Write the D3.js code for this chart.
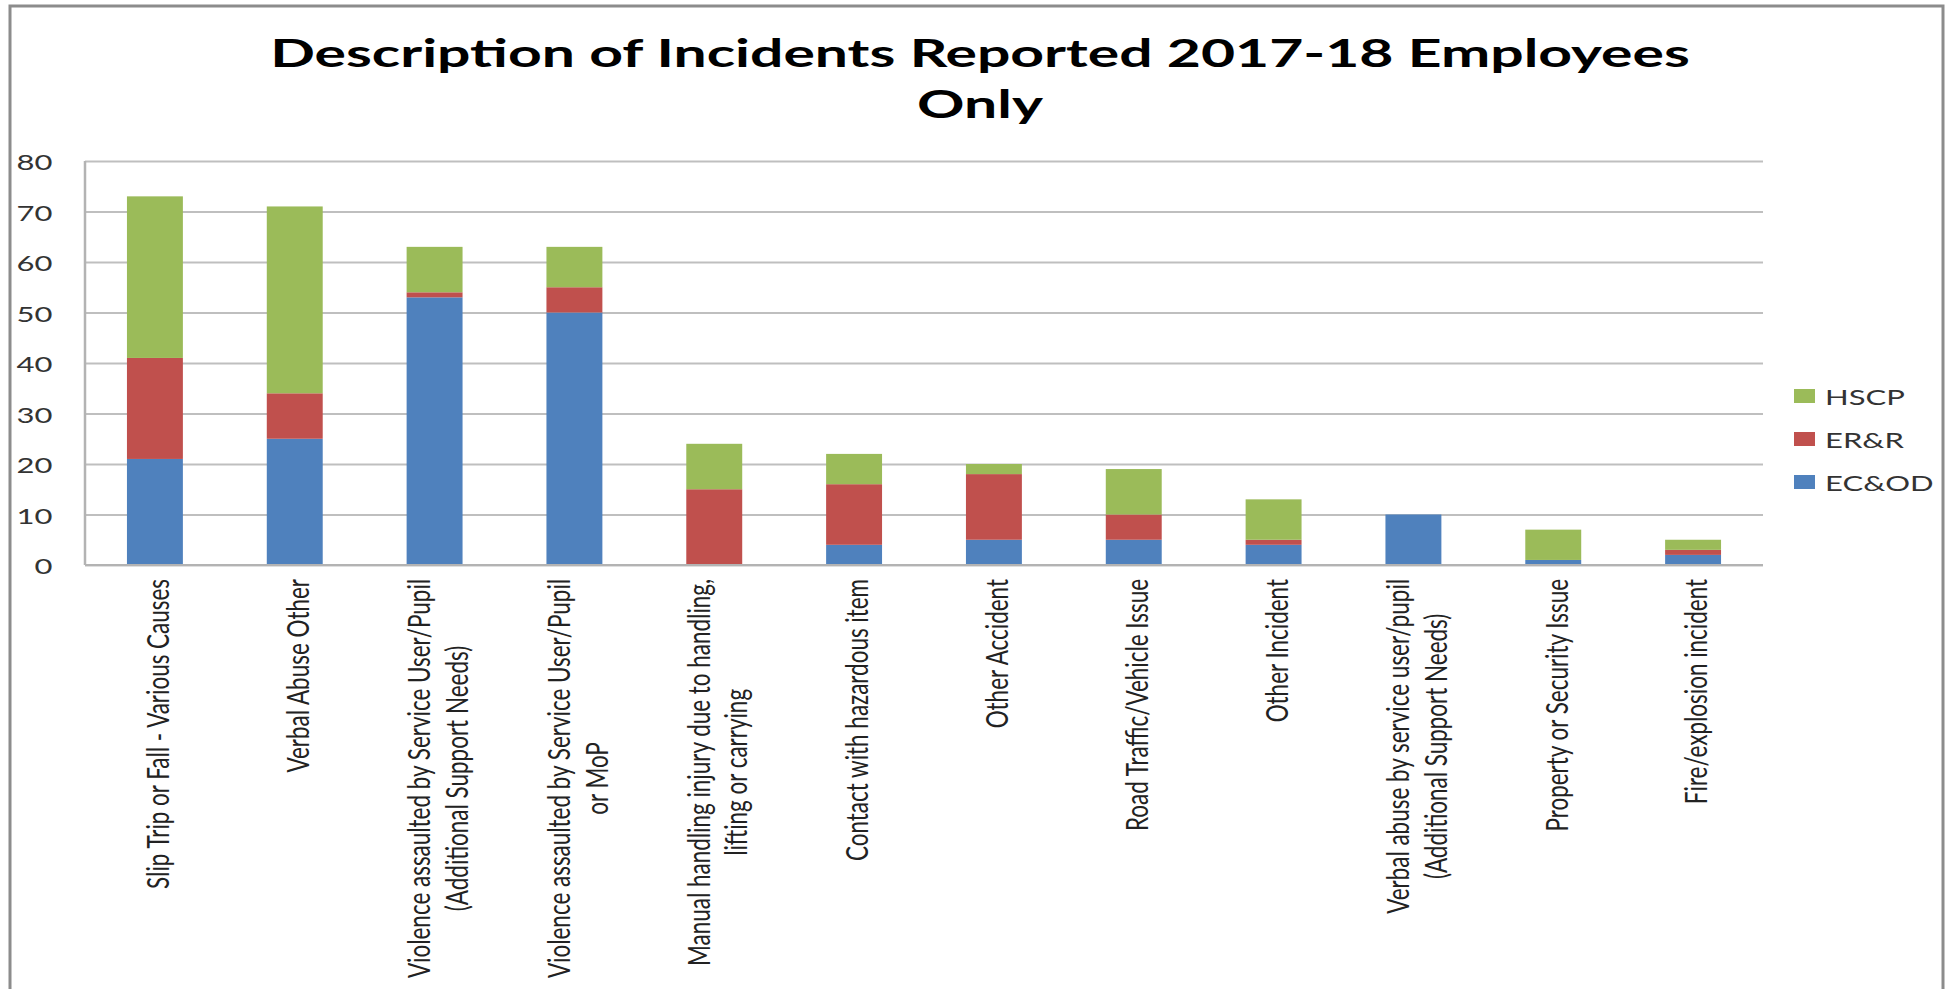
<!DOCTYPE html>
<html>
<head>
<meta charset="utf-8">
<script src="https://cdn.jsdelivr.net/npm/d3@7"></script>
<style>
  html, body { margin: 0; padding: 0; background: #ffffff; }
  svg { display: block; }
</style>
</head>
<body>
<script>
// Incident categories (line breaks mark wrapped axis labels)
const categories = [
  "Slip Trip or Fall - Various Causes",
  "Verbal Abuse Other",
  "Violence assaulted by Service User/Pupil\n(Additional Support Needs)",
  "Violence assaulted by Service User/Pupil\nor MoP",
  "Manual handling injury due to handling,\nlifting or carrying",
  "Contact with hazardous item",
  "Other Accident",
  "Road Traffic/Vehicle Issue",
  "Other Incident",
  "Verbal abuse by service user/pupil\n(Additional Support Needs)",
  "Property or Security Issue",
  "Fire/explosion incident"
];

// Series values, stacked bottom to top: EC&OD, ER&R, HSCP
const seriesNames = ["EC&OD", "ER&R", "HSCP"];
const ecod = [21, 25, 53, 50, 0, 4, 5, 5, 4, 10, 1, 2];
const err  = [20, 9, 1, 5, 15, 12, 13, 5, 1, 0, 0, 1];
const hscp = [32, 37, 9, 8, 9, 6, 2, 9, 8, 0, 6, 2];

const yTicks = [0, 10, 20, 30, 40, 50, 60, 70, 80];
const seriesColors = ["#4f81bd", "#c0504d", "#9bbb59"];

const titleLines = ["Description of Incidents Reported 2017-18 Employees", "Only"];

const W = 1951, H = 989;
const FONT = "Lato, 'Open Sans', 'DejaVu Sans', sans-serif";

const svg = d3.select("body").append("svg")
  .attr("width", W).attr("height", H);

// chart frame
svg.append("rect")
  .attr("x", 10).attr("y", 6)
  .attr("width", 1933).attr("height", 1010)
  .attr("fill", "#ffffff")
  .attr("stroke", "#8c8c8c").attr("stroke-width", 3);

const plot = { left: 85, right: 1763, top: 161, bottom: 565 };

const x = d3.scaleBand()
  .domain(categories)
  .range([plot.left, plot.right])
  .paddingInner(0.6)
  .paddingOuter(0.3);

const y = d3.scaleLinear()
  .domain([0, 80])
  .range([plot.bottom, plot.top]);

// helper to measure a text string in a given font
function measure(str, size, weight) {
  const t = svg.append("text")
    .attr("font-family", FONT).attr("font-size", size)
    .attr("font-weight", weight || "normal")
    .text(str);
  const w = t.node().getComputedTextLength();
  t.remove();
  return w;
}

// the drawing is widened horizontally, text included
const tickSize = 22;
const SX = 36 / measure("80", tickSize);

// gridlines and value labels
const yAxis = d3.axisLeft(y)
  .tickValues(yTicks)
  .tickSize(-(plot.right - plot.left))
  .tickFormat(d3.format("d"));

const yg = svg.append("g")
  .attr("transform", `translate(${plot.left},0)`)
  .call(yAxis);
yg.select(".domain").remove();
yg.selectAll(".tick line")
  .attr("stroke", "#bfbfbf").attr("stroke-width", 2);
yg.selectAll(".tick text")
  .attr("font-family", FONT)
  .attr("font-size", tickSize)
  .attr("fill", "#333333")
  .attr("x", null).attr("dy", null)
  .attr("text-anchor", "end")
  .attr("dominant-baseline", "central")
  .attr("transform", `translate(-32.5,0) scale(${SX},1)`);

// value axis line
svg.append("line")
  .attr("x1", plot.left).attr("x2", plot.left)
  .attr("y1", y(80)).attr("y2", y(0))
  .attr("stroke", "#b3b3b3").attr("stroke-width", 2.5);

// stacked bars
const rows = categories.map((c, i) => ({
  cat: c, "EC&OD": ecod[i], "ER&R": err[i], "HSCP": hscp[i]
}));
const stacked = d3.stack().keys(seriesNames)(rows);

svg.append("g").selectAll("g")
  .data(stacked)
  .join("g")
  .attr("fill", (d, i) => seriesColors[i])
  .selectAll("rect")
  .data(d => d.filter(s => s[1] - s[0] > 0))
  .join("rect")
  .attr("x", d => x(d.data.cat))
  .attr("width", x.bandwidth())
  .attr("y", d => y(d[1]))
  .attr("height", d => y(d[0]) - y(d[1]));

// category axis line
svg.append("line")
  .attr("x1", plot.left).attr("x2", plot.right)
  .attr("y1", y(0)).attr("y2", y(0))
  .attr("stroke", "#b3b3b3").attr("stroke-width", 2);

// rotated category labels, wrapped lines centred on each other
const labelSize = 22 * 310 / measure(categories[0], 22);
const labelTop = 579;
const lineGap = 1.2 * labelSize;

categories.forEach(c => {
  const lines = c.split("\n");
  const maxLen = d3.max(lines, l => measure(l, labelSize));
  const cx = x(c) + x.bandwidth() / 2;
  const g = svg.append("g")
    .attr("transform", `translate(${cx},${labelTop}) scale(${SX},1) rotate(-90)`);
  lines.forEach((l, i) => {
    g.append("text")
      .attr("font-family", FONT)
      .attr("font-size", labelSize)
      .attr("fill", "#222222")
      .attr("text-anchor", "middle")
      .attr("x", -maxLen / 2)
      .attr("y", (i - (lines.length - 1) / 2) * lineGap + 0.45 * labelSize)
      .text(l);
  });
});

// legend, top entry is the top of the stack
const legendOrder = [2, 1, 0];
const legendY = [396, 439, 482];
const lg = svg.append("g");
legendOrder.forEach((si, k) => {
  lg.append("rect")
    .attr("x", 1794).attr("y", legendY[k] - 7)
    .attr("width", 21).attr("height", 14)
    .attr("fill", seriesColors[si]);
  lg.append("text")
    .attr("font-family", FONT)
    .attr("font-size", 22)
    .attr("fill", "#333333")
    .attr("dominant-baseline", "central")
    .attr("transform", `translate(1825,${legendY[k]}) scale(${SX},1)`)
    .text(seriesNames[si]);
});

// title
const titleSize = 39;
const TSX = 1420 / measure(titleLines[0], titleSize, "bold");
const titleBase = [67, 118];
titleLines.forEach((t, i) => {
  svg.append("text")
    .attr("font-family", FONT)
    .attr("font-size", titleSize)
    .attr("font-weight", "bold")
    .attr("fill", "#000000")
    .attr("text-anchor", "middle")
    .attr("transform", `translate(980,${titleBase[i]}) scale(${TSX},1)`)
    .text(t);
});
</script>
</body>
</html>
